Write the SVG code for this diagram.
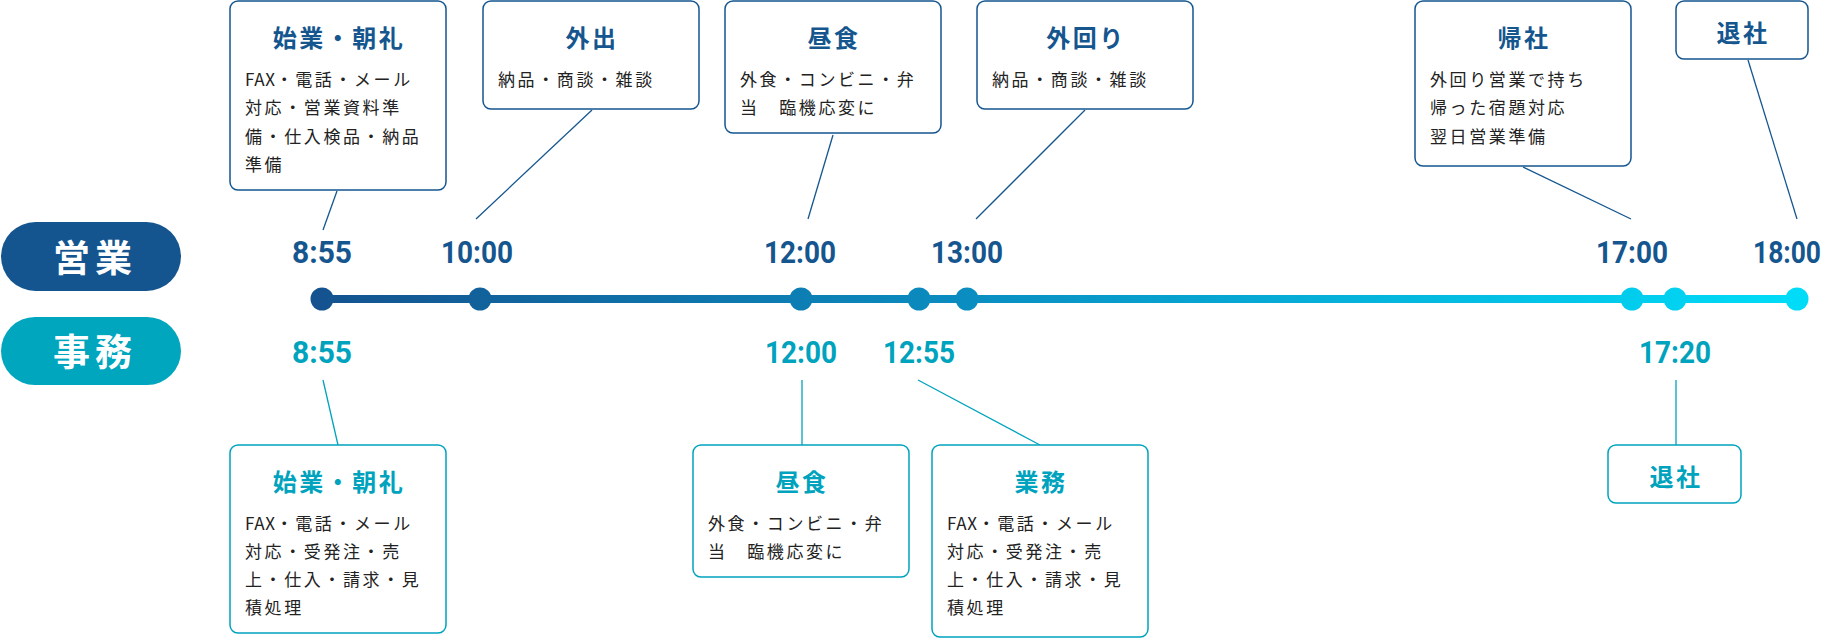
<svg xmlns="http://www.w3.org/2000/svg" width="1833" height="638" viewBox="0 0 1833 638">
<defs>
<linearGradient id="tl" gradientUnits="userSpaceOnUse" x1="322" y1="0" x2="1797" y2="0">
<stop offset="0" stop-color="#14538f"/>
<stop offset="0.45" stop-color="#0a8fc2"/>
<stop offset="1" stop-color="#00dcf8"/>
</linearGradient>
<style>
.bxu{fill:#fff;stroke:#15568f;stroke-width:1.5}
.bxl{fill:#fff;stroke:#00a3bd;stroke-width:1.5}
.ttu{font-family:"Noto Sans CJK JP",sans-serif;font-weight:700;font-size:24px;fill:#15568f;letter-spacing:2.5px;text-anchor:middle}
.ttl{font-family:"Noto Sans CJK JP",sans-serif;font-weight:700;font-size:24px;fill:#00a3bd;letter-spacing:2.5px;text-anchor:middle}
.bd{font-family:"Noto Sans CJK JP",sans-serif;font-size:17px;fill:#222;letter-spacing:2.6px}
.fx{letter-spacing:0.6px}
.tmu{font-family:Roboto,"Liberation Sans",sans-serif;font-weight:700;font-size:32px;fill:#15568f;text-anchor:middle}
.tml{font-family:Roboto,"Liberation Sans",sans-serif;font-weight:700;font-size:32px;fill:#00a3bd;text-anchor:middle}
.pill{font-family:"Noto Sans CJK JP",sans-serif;font-weight:700;font-size:37px;fill:#fff;letter-spacing:5px;text-anchor:middle}
.cu{stroke:#15568f;stroke-width:1.3;fill:none}
.cl{stroke:#00a3bd;stroke-width:1.3;fill:none}
</style>
</defs>
<rect width="1833" height="638" fill="#fff"/>

<g id="label-eigyo">
<rect x="1" y="222" width="180" height="69" rx="34.5" fill="#15558f"/>
<text class="pill" x="95" y="272">営業</text>
</g>
<g id="label-jimu">
<rect x="1" y="317" width="180" height="68" rx="34" fill="#00a5be"/>
<text class="pill" x="95" y="366">事務</text>
</g>

<g id="connectors">
<line class="cu" x1="337" y1="191" x2="323" y2="230"/>
<line class="cu" x1="592" y1="110" x2="476" y2="219"/>
<line class="cu" x1="833" y1="135" x2="808" y2="219"/>
<line class="cu" x1="1085" y1="110" x2="976" y2="219"/>
<line class="cu" x1="1523" y1="167" x2="1631" y2="219"/>
<line class="cu" x1="1748" y1="60" x2="1797" y2="219"/>
<line class="cl" x1="323" y1="380" x2="338" y2="445"/>
<line class="cl" x1="802" y1="380" x2="802" y2="445"/>
<line class="cl" x1="918" y1="380" x2="1040" y2="445"/>
<line class="cl" x1="1676" y1="380" x2="1676" y2="445"/>
</g>

<g id="timeline">
<line x1="322" y1="299" x2="1797" y2="299" stroke="url(#tl)" stroke-width="8"/>
<g fill="url(#tl)">
<circle cx="322" cy="299" r="11.5"/>
<circle cx="480" cy="299" r="11.5"/>
<circle cx="801" cy="299" r="11.5"/>
<circle cx="919" cy="299" r="11.5"/>
<circle cx="967" cy="299" r="11.5"/>
<circle cx="1632" cy="299" r="11.5"/>
<circle cx="1675" cy="299" r="11.5"/>
<circle cx="1797" cy="299" r="11.5"/>
</g>
</g>

<g id="times-upper">
<text class="tmu" x="322" y="263" textLength="60" lengthAdjust="spacingAndGlyphs">8:55</text>
<text class="tmu" x="477" y="263" textLength="72" lengthAdjust="spacingAndGlyphs">10:00</text>
<text class="tmu" x="800" y="263" textLength="72" lengthAdjust="spacingAndGlyphs">12:00</text>
<text class="tmu" x="967" y="263" textLength="72" lengthAdjust="spacingAndGlyphs">13:00</text>
<text class="tmu" x="1632" y="263" textLength="72" lengthAdjust="spacingAndGlyphs">17:00</text>
<text class="tmu" x="1787" y="263" font-size="30" textLength="68" lengthAdjust="spacingAndGlyphs">18:00</text>
</g>
<g id="times-lower">
<text class="tml" x="322" y="363" textLength="60" lengthAdjust="spacingAndGlyphs">8:55</text>
<text class="tml" x="801" y="363" textLength="72" lengthAdjust="spacingAndGlyphs">12:00</text>
<text class="tml" x="919" y="363" textLength="72" lengthAdjust="spacingAndGlyphs">12:55</text>
<text class="tml" x="1675" y="363" textLength="72" lengthAdjust="spacingAndGlyphs">17:20</text>
</g>

<g id="box-u-shigyo">
<rect class="bxu" x="230" y="1" width="216" height="189" rx="8"/>
<text class="ttu" x="339" y="47">始業・朝礼</text>
<text class="bd" x="245" y="85.5"><tspan class="fx">FAX</tspan>・電話・メール</text>
<text class="bd" x="245" y="113.5">対応・営業資料準</text>
<text class="bd" x="245" y="142.5">備・仕入検品・納品</text>
<text class="bd" x="245" y="170.5">準備</text>
</g>
<g id="box-u-gaishutsu">
<rect class="bxu" x="483" y="1" width="216" height="108" rx="8"/>
<text class="ttu" x="592" y="47">外出</text>
<text class="bd" x="498" y="85.5">納品・商談・雑談</text>
</g>
<g id="box-u-chushoku">
<rect class="bxu" x="725" y="1" width="216" height="132" rx="8"/>
<text class="ttu" x="834" y="47">昼食</text>
<text class="bd" x="740" y="85.5">外食・コンビニ・弁</text>
<text class="bd" x="740" y="113.5">当　臨機応変に</text>
</g>
<g id="box-u-sotomawari">
<rect class="bxu" x="977" y="1" width="216" height="108" rx="8"/>
<text class="ttu" x="1086" y="47">外回り</text>
<text class="bd" x="992" y="85.5">納品・商談・雑談</text>
</g>
<g id="box-u-kisha">
<rect class="bxu" x="1415" y="1" width="216" height="165" rx="8"/>
<text class="ttu" x="1524" y="47">帰社</text>
<text class="bd" x="1430" y="85.5">外回り営業で持ち</text>
<text class="bd" x="1430" y="113.5">帰った宿題対応</text>
<text class="bd" x="1430" y="142.5">翌日営業準備</text>
</g>
<g id="box-u-taisha">
<rect class="bxu" x="1676" y="1" width="132" height="58" rx="8"/>
<text class="ttu" x="1743" y="42">退社</text>
</g>

<g id="box-l-shigyo">
<rect class="bxl" x="230" y="445" width="216" height="188" rx="8"/>
<text class="ttl" x="339" y="491">始業・朝礼</text>
<text class="bd" x="245" y="529.5"><tspan class="fx">FAX</tspan>・電話・メール</text>
<text class="bd" x="245" y="557.5">対応・受発注・売</text>
<text class="bd" x="245" y="585.5">上・仕入・請求・見</text>
<text class="bd" x="245" y="613.5">積処理</text>
</g>
<g id="box-l-chushoku">
<rect class="bxl" x="693" y="445" width="216" height="132" rx="8"/>
<text class="ttl" x="802" y="491">昼食</text>
<text class="bd" x="708" y="529.5">外食・コンビニ・弁</text>
<text class="bd" x="708" y="557.5">当　臨機応変に</text>
</g>
<g id="box-l-gyomu">
<rect class="bxl" x="932" y="445" width="216" height="192" rx="8"/>
<text class="ttl" x="1041" y="491">業務</text>
<text class="bd" x="947" y="529.5"><tspan class="fx">FAX</tspan>・電話・メール</text>
<text class="bd" x="947" y="557.5">対応・受発注・売</text>
<text class="bd" x="947" y="585.5">上・仕入・請求・見</text>
<text class="bd" x="947" y="613.5">積処理</text>
</g>
<g id="box-l-taisha">
<rect class="bxl" x="1608" y="445" width="133" height="58" rx="8"/>
<text class="ttl" x="1676" y="486">退社</text>
</g>
</svg>
